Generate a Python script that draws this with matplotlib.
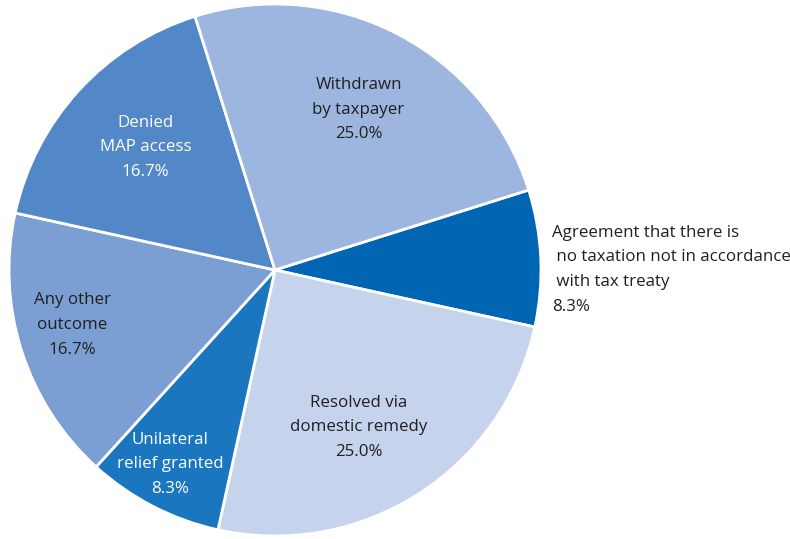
import numpy as np
from matplotlib import pyplot as plt

plt.rcParams['font.family'] = ['Open Sans', 'DejaVu Sans']

labels = ['Agreement that there is\n no taxation not in accordance\n with tax treaty',
          'Resolved via\ndomestic remedy',
          'Unilateral\nrelief granted',
          'Any other\noutcome',
          'Denied\nMAP access',
          'Withdrawn\nby taxpayer']
shares = [8.3, 25.0, 8.3, 16.7, 16.7, 25.0]
colors = ['#0066b3', '#c6d3ec', '#1a76be', '#7b9fd3', '#5288c8', '#9cb6df']
text_colors = ['#231f20', '#231f20', 'white', '#231f20', 'white', '#231f20']
# label placement: distance from centre and angular shift from the wedge middle
label_dist = [1.04, 0.67, 0.83, 0.79, 0.67, 0.68]
label_shift = [-2.5, -4.5, -1.0, -2.5, -1.0, 0.0]

fig = plt.figure(figsize=(7.9, 5.39), dpi=100)
ax = fig.add_axes([9/790, 3/539, 532/790, 532/539])

wedges, _ = ax.pie(shares, colors=colors, startangle=17.5, counterclock=False,
                   wedgeprops=dict(edgecolor='white', linewidth=2))
ax.set_xlim(-1, 1)
ax.set_ylim(-1, 1)
ax.set_aspect('equal')

for w, lab, val, tc, d, s in zip(wedges, labels, shares, text_colors, label_dist, label_shift):
    ang = np.deg2rad((w.theta1 + w.theta2) / 2 + s)
    x, y = d * np.cos(ang), d * np.sin(ang)
    if d > 1:
        ax.text(x, y, lab + '\n%.1f%%' % val, ha='left', va='center',
                fontsize=12.2, color=tc, linespacing=1.72)
    else:
        ax.text(x, y, lab + '\n%.1f%%' % val, ha='center', va='center',
                fontsize=12.2, color=tc, linespacing=1.72, multialignment='center')

plt.savefig('out.png', dpi=100)
